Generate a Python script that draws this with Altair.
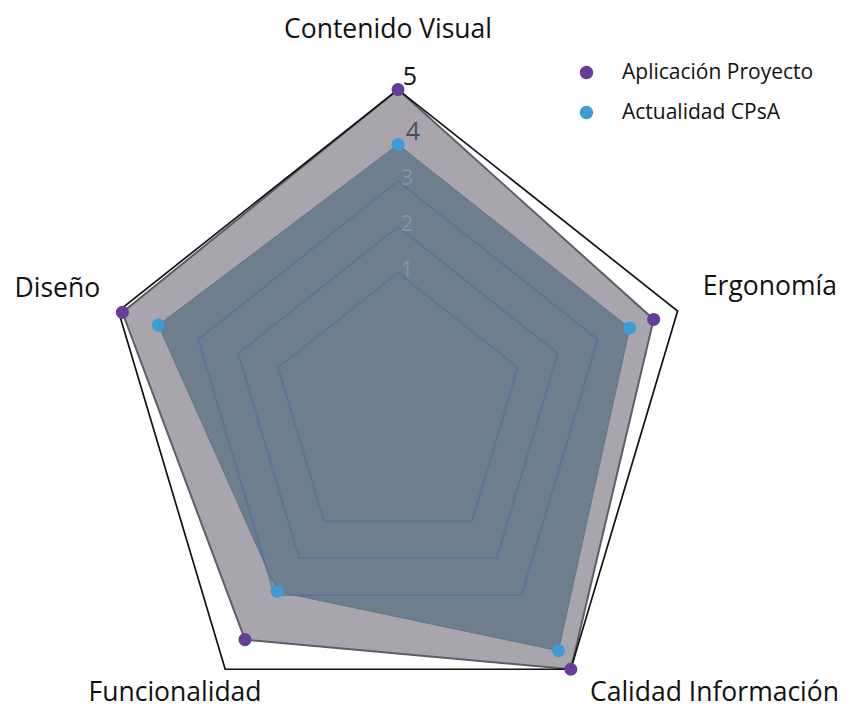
import altair as alt
import pandas as pd

# ---- data ----
axes = ["Contenido Visual", "Ergonomía", "Calidad Información", "Funcionalidad", "Diseño"]
series = ["Aplicación Proyecto", "Actualidad CPsA"]
aplicacion = [5.0, 4.4, 5.0, 4.2, 4.9]
actualidad = [3.8, 3.8, 4.5, 2.9, 4.0]
ring_levels = [1, 2, 3]
frame_level = [5]
tick_values = [1, 2, 3, 4, 5]

# ---- tables built from the arrays ----
rows = []
for s, vals in zip(series, [aplicacion, actualidad]):
    for i, (a, v) in enumerate(zip(axes, vals)):
        rows.append({"series": s, "axis": a, "idx": i, "value": v})
df = pd.DataFrame(rows)

grid = pd.DataFrame([{"level": l, "idx": i, "kind": ("frame" if l in frame_level else "ring")}
                     for l in ring_levels + frame_level for i in range(len(axes))])
labels = pd.DataFrame([{"axis": a, "idx": i} for i, a in enumerate(axes)])
ticks = pd.DataFrame({"tick": tick_values})

N = len(axes)
R0, RK = 84, 42      # radial scale: radius = R0 + RK * value
LR = 330             # radius of the category labels

xs = alt.Scale(domain=[-390, 449], nice=False, zero=False)
ys = alt.Scale(domain=[-273.39, 368.81], nice=False, zero=False)


def polar(chart, field):
    return chart.transform_calculate(
        r=f"{R0} + {RK} * datum.{field}",
        ang=f"datum.idx * 2 * PI / {N}",
    ).transform_calculate(
        px="datum.r * sin(datum.ang)",
        py="datum.r * cos(datum.ang)",
    )


X = alt.X("px:Q", scale=xs, axis=None)
Y = alt.Y("py:Q", scale=ys, axis=None)

base = alt.Chart(df)

gray_poly = polar(base, "value").transform_filter(
    alt.datum.series == series[0]
).mark_line(interpolate="linear-closed", fill="#a8a6ac", stroke="#5f5c68",
            strokeWidth=2).encode(x=X, y=Y, order=alt.Order("idx:Q"))

blue_poly = polar(base, "value").transform_filter(
    alt.datum.series == series[1]
).mark_line(interpolate="linear-closed", fill="#6d7e8e", stroke="#627389",
            strokeWidth=1).encode(x=X, y=Y, order=alt.Order("idx:Q"))

gbase = polar(alt.Chart(grid), "level")
rings = gbase.transform_filter(alt.datum.kind == "ring").mark_line(
    interpolate="linear-closed", stroke="#5a7198", strokeWidth=1.8, opacity=0.8
).encode(x=X, y=Y, detail="level:N", order=alt.Order("idx:Q"))

frame = gbase.transform_filter(alt.datum.kind == "frame").mark_line(
    interpolate="linear-closed", stroke="#111111", strokeWidth=1.7
).encode(x=X, y=Y, detail="level:N", order=alt.Order("idx:Q"))

# radial tick labels
tbase = alt.Chart(ticks).transform_calculate(
    py=f"{R0} + {RK} * datum.tick", px="0"
)
tick5 = tbase.transform_filter(alt.datum.tick == 5).mark_text(
    font="Open Sans", fontSize=25, color="#111111", align="center", dx=12, dy=-13
).encode(x=X, y=Y, text="tick:Q")
tick4 = tbase.transform_filter(alt.datum.tick == 4).mark_text(
    font="Open Sans", fontSize=25, color="#4d4f5e", align="center", dx=15, dy=-3
).encode(x=X, y=Y, text="tick:Q")
tick_low = tbase.transform_filter(alt.datum.tick < 4).mark_text(
    font="Open Sans", fontSize=22, color="#8393aa", align="center", dx=9, dy=-3
).encode(x=X, y=Y, text="tick:Q")

# points
points = polar(base, "value").mark_circle(size=170, opacity=1).encode(
    x=X, y=Y,
    color=alt.Color("series:N", scale=alt.Scale(domain=series, range=["#663d98", "#3d9bd8"]),
                    legend=alt.Legend(title=None, orient="none", legendX=568, legendY=54,
                                      symbolType="circle", symbolSize=180, symbolStrokeWidth=0,
                                      labelFont="Open Sans", labelFontSize=21, labelColor="#111111",
                                      labelOffset=25, labelLimit=0, rowPadding=18, padding=0)),
)

# category labels
lbase = polar(alt.Chart(labels).transform_calculate(lv=f"({LR} - {R0}) / {RK}"), "lv")
label_specs = [
    (0, "center", -10, -12),
    (1, "left", -9, -4),
    (2, "left", -2, 0),
    (3, "center", -29, 0),
    (4, "right", 16, -2),
]
label_layers = []
for idx, align, dx, dy in label_specs:
    label_layers.append(
        lbase.transform_filter(alt.datum.idx == idx).mark_text(
            font="Open Sans", fontSize=26.5, color="#111111", align=align,
            baseline="alphabetic", dx=dx, dy=dy
        ).encode(x=X, y=Y, text="axis:N")
    )

chart = alt.layer(
    gray_poly, blue_poly, rings, frame, tick_low, tick4, tick5, points, *label_layers
).properties(
    width=839, height=700, padding=0,
    autosize=alt.AutoSizeParams(type="none"),
    background="white",
).configure_view(stroke=None)

chart.save("out.html", embed_options={"renderer": "svg", "actions": False})
